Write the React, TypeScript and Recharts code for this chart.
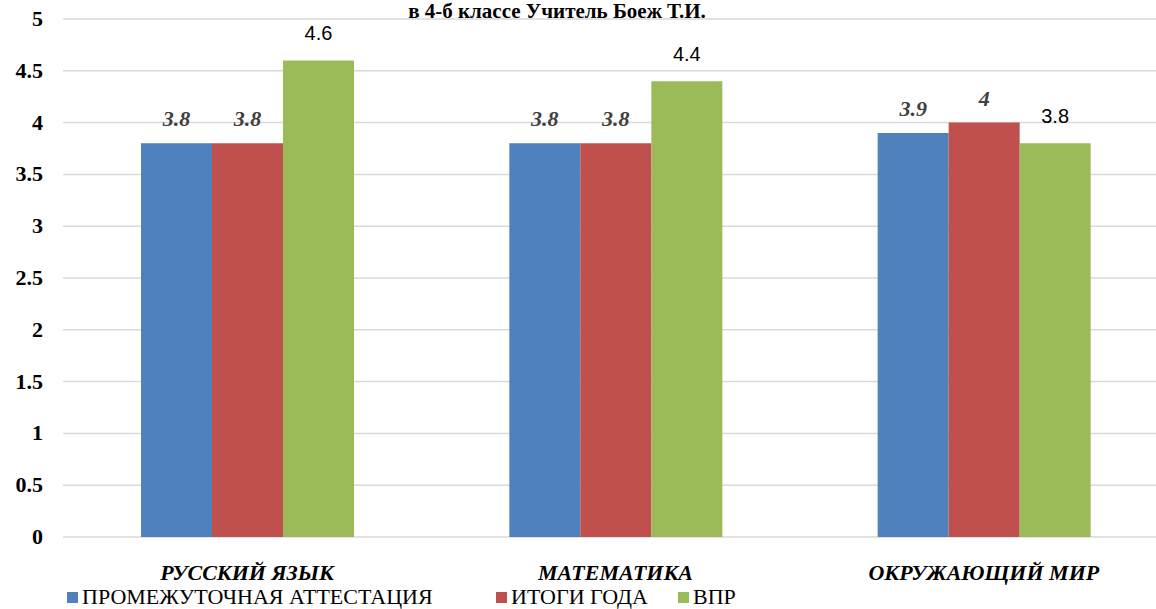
import { BarChart, Bar, XAxis, YAxis, CartesianGrid, LabelList } from "recharts";

const categories = ["РУССКИЙ ЯЗЫК", "МАТЕМАТИКА", "ОКРУЖАЮЩИЙ МИР"];
const interim = [3.8, 3.8, 3.9];
const yearResults = [3.8, 3.8, 4];
const vpr = [4.6, 4.4, 3.8];
const yTicks = [0, 0.5, 1, 1.5, 2, 2.5, 3, 3.5, 4, 4.5, 5];

const seriesNames = ["ПРОМЕЖУТОЧНАЯ АТТЕСТАЦИЯ", "ИТОГИ ГОДА", "ВПР"];
const colors = ["#4F81BD", "#C0504D", "#9BBB59"];

const data = categories.map((name, i) => ({
  name,
  interim: interim[i],
  year: yearResults[i],
  vpr: vpr[i],
}));

const serif = '"Liberation Serif", "Times New Roman", Tinos';
const sans = '"Liberation Sans", Arimo';

function ItalicLabel(props: any) {
  const { x, y, width, value } = props;
  return (
    <text
      x={x + width / 2}
      y={y - 17}
      textAnchor="middle"
      style={{ fontFamily: serif, fontWeight: "bold", fontStyle: "italic", fontSize: 22 }}
      fill="#404040"
    >
      {value}
    </text>
  );
}

function PlainLabel(props: any) {
  const { x, y, width, value } = props;
  return (
    <text
      x={x + width / 2}
      y={y - 20}
      textAnchor="middle"
      style={{ fontFamily: sans, fontSize: 20 }}
      fill="#000"
    >
      {value}
    </text>
  );
}

function YTick(props: any) {
  const { y, payload } = props;
  return (
    <text
      x={43}
      y={y + 7}
      textAnchor="end"
      style={{ fontFamily: serif, fontWeight: "bold", fontSize: 22 }}
      fill="#000"
    >
      {payload.value}
    </text>
  );
}

function XTick(props: any) {
  const { x, y, payload } = props;
  return (
    <text
      x={x}
      y={y + 35}
      textAnchor="middle"
      style={{ fontFamily: serif, fontWeight: "bold", fontStyle: "italic", fontSize: 22 }}
      fill="#000"
    >
      {payload.value}
    </text>
  );
}

const legendX = [67, 496, 678];

export default function App() {
  return (
    <div
      style={{
        position: "fixed",
        left: 0,
        top: 0,
        width: 1156,
        height: 609,
        overflow: "hidden",
        background: "#fff",
        fontFamily: serif,
      }}
    >
      <BarChart
        width={1170}
        height={609}
        data={data}
        margin={{ top: 19, right: 2, left: 0, bottom: 0 }}
        barCategoryGap={78}
        barGap={0}
      >
        <CartesianGrid vertical={false} stroke="#d9d9d9" strokeWidth={1.5} />
        <XAxis
          dataKey="name"
          axisLine={false}
          tickLine={false}
          height={72}
          tick={<XTick />}
          interval={0}
        />
        <YAxis
          domain={[0, 5]}
          ticks={yTicks}
          axisLine={false}
          tickLine={false}
          width={63}
          tick={<YTick />}
          interval={0}
        />
        <Bar dataKey="interim" fill={colors[0]} isAnimationActive={false}>
          <LabelList dataKey="interim" content={<ItalicLabel />} />
        </Bar>
        <Bar dataKey="year" fill={colors[1]} isAnimationActive={false}>
          <LabelList dataKey="year" content={<ItalicLabel />} />
        </Bar>
        <Bar dataKey="vpr" fill={colors[2]} isAnimationActive={false}>
          <LabelList dataKey="vpr" content={<PlainLabel />} />
        </Bar>
      </BarChart>
      <div
        style={{
          position: "absolute",
          left: 0,
          top: 0,
          width: 1114,
          textAlign: "center",
          fontFamily: serif,
          fontWeight: "bold",
          fontSize: 21,
          lineHeight: "22px",
          color: "#000",
        }}
      >
        в 4-б классе Учитель Боеж Т.И.
      </div>
      {seriesNames.map((s, i) => (
        <div
          key={s}
          style={{
            position: "absolute",
            left: legendX[i],
            top: 585,
            display: "flex",
            alignItems: "center",
            fontFamily: serif,
            fontSize: 22,
            lineHeight: "24px",
            color: "#000",
            whiteSpace: "nowrap",
          }}
        >
          <span
            style={{
              display: "inline-block",
              width: 11,
              height: 11,
              background: colors[i],
              marginRight: 4,
            }}
          />
          {s}
        </div>
      ))}
    </div>
  );
}
